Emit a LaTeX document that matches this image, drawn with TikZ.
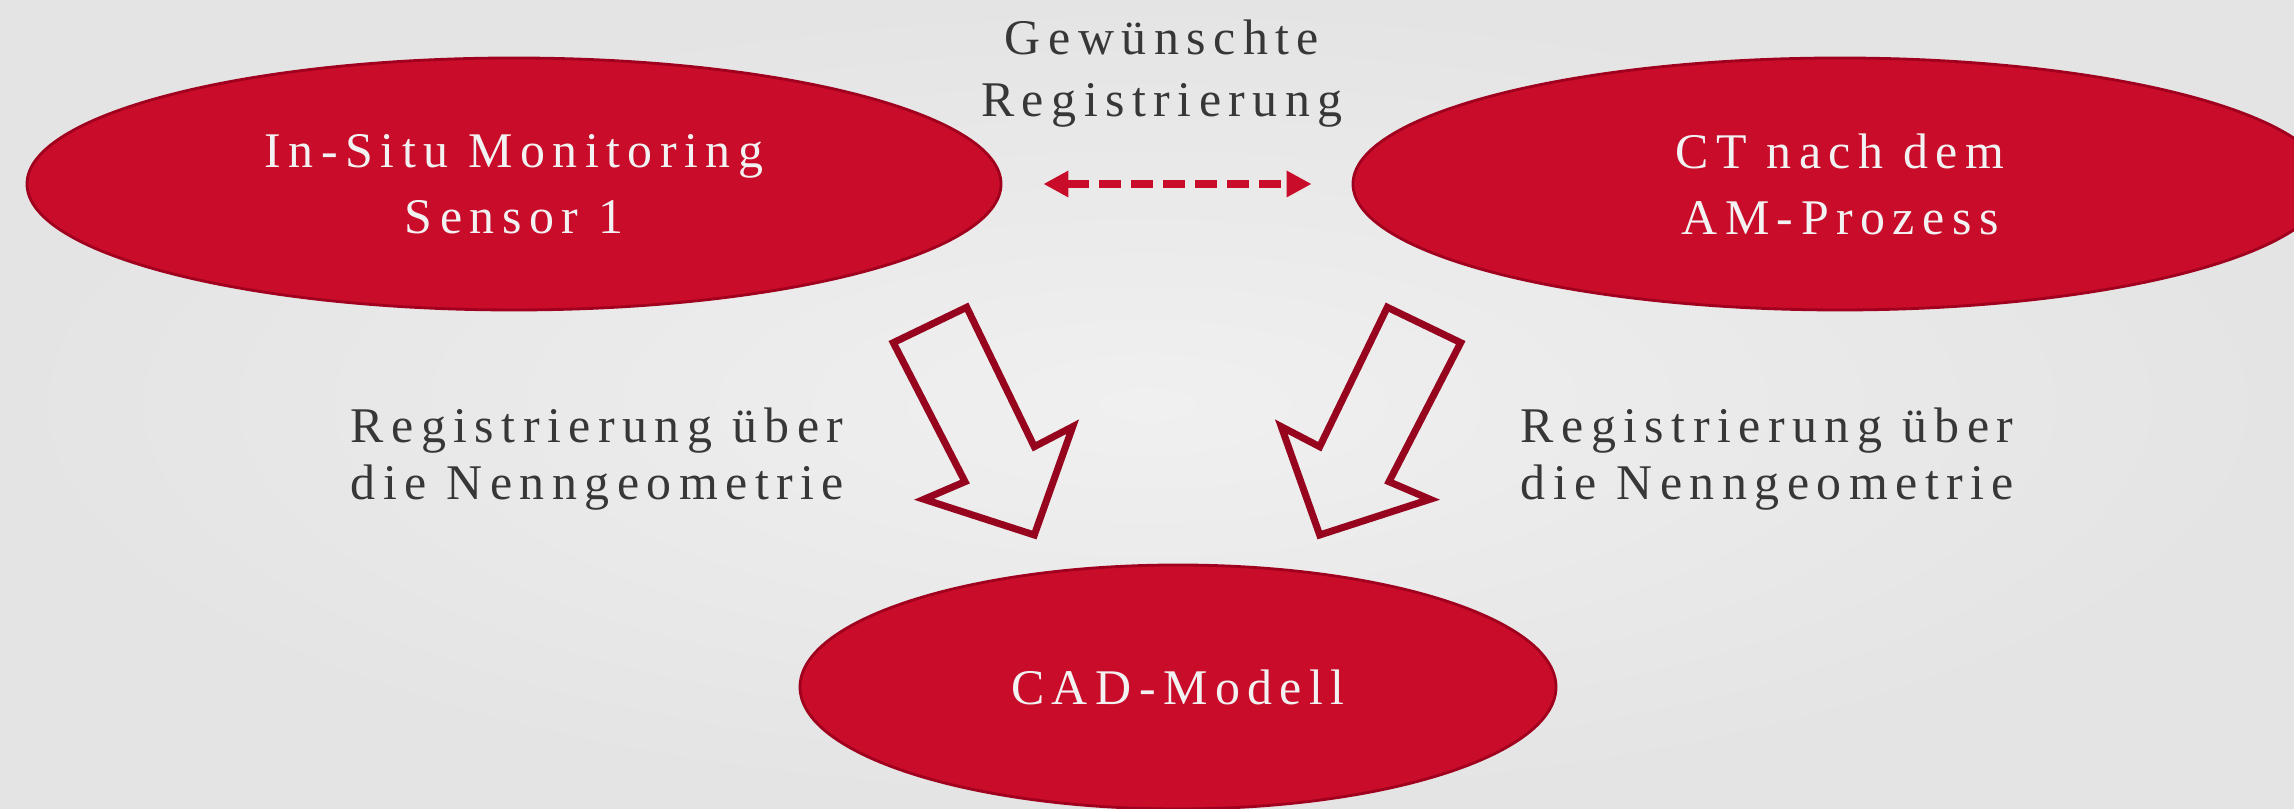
\documentclass[tikz,border=0pt]{standalone}
\usepackage{fontspec}
\setmainfont{Liberation Serif}[LetterSpace=15]
\usetikzlibrary{shapes.geometric,arrows.meta}

\definecolor{bgin}{RGB}{240,240,240}
\definecolor{bgout}{RGB}{228,228,228}
\definecolor{boxred}{RGB}{200,12,42}
\definecolor{rimred}{RGB}{160,0,30}
\definecolor{arrowred}{RGB}{150,4,30}
\definecolor{textgray}{RGB}{55,55,55}

\begin{document}
\begin{tikzpicture}[
    blob/.style={ellipse, fill=boxred, draw=rimred, line width=0.8pt, inner sep=0pt,
                 text=white!95!black, align=center, font=\fontsize{14.2}{18.8}\selectfont},
    note/.style={text=textgray, inner sep=0pt, font=\fontsize{14.2}{16.4}\selectfont},
    hollow/.style={draw=arrowred, line width=2pt, line join=miter},
    dasharrow/.style={draw=boxred, line width=2.3pt, dash pattern=on 0.22cm off 0.1cm,
                      {Triangle[length=0.25cm, width=0.25cm]}-{Triangle[length=0.25cm, width=0.25cm]}}
]
    % Background
    \path[use as bounding box, clip] (0,0) rectangle (22.94,8.09);
    \shade[inner color=bgin, outer color=bgout] (0,0) rectangle (22.94,8.09);

    % Ellipses
    \node[blob, minimum width=9.74cm, minimum height=2.52cm] (sensor) at (5.14,6.25)
        {In-Situ Monitoring\\Sensor 1};
    \node[blob, minimum width=9.74cm, minimum height=2.52cm] (ct) at (18.40,6.25)
        {CT nach dem\\AM-Prozess};
    \node[blob, minimum width=7.56cm, minimum height=2.44cm] (cad) at (11.78,1.22)
        {CAD-Modell};

    % Wanted registration
    \draw[dasharrow, shorten <=0.41cm, shorten >=0.40cm] (sensor.east) -- (ct.west);
    \node[note, align=center, font=\fontsize{14.2}{17.6}\selectfont] (wunsch) at (11.62,7.35)
        {Gewünschte\\Registrierung};

    % Block arrows
    \draw[hollow] (8.933,4.663) -- (9.667,5.017) -- (10.343,3.623) -- (10.727,3.823)
        -- (10.343,2.74) -- (9.24,3.097) -- (9.65,3.273) -- cycle;
    \draw[hollow] (14.607,4.663) -- (13.873,5.017) -- (13.197,3.623) -- (12.813,3.823)
        -- (13.197,2.74) -- (14.30,3.097) -- (13.89,3.273) -- cycle;

    % Labels
    \node[note, anchor=west, align=left] (links) at (3.50,3.50)
        {Registrierung über\\die Nenngeometrie};
    \node[note, anchor=west, align=left] (rechts) at (15.20,3.50)
        {Registrierung über\\die Nenngeometrie};
\end{tikzpicture}
\end{document}
